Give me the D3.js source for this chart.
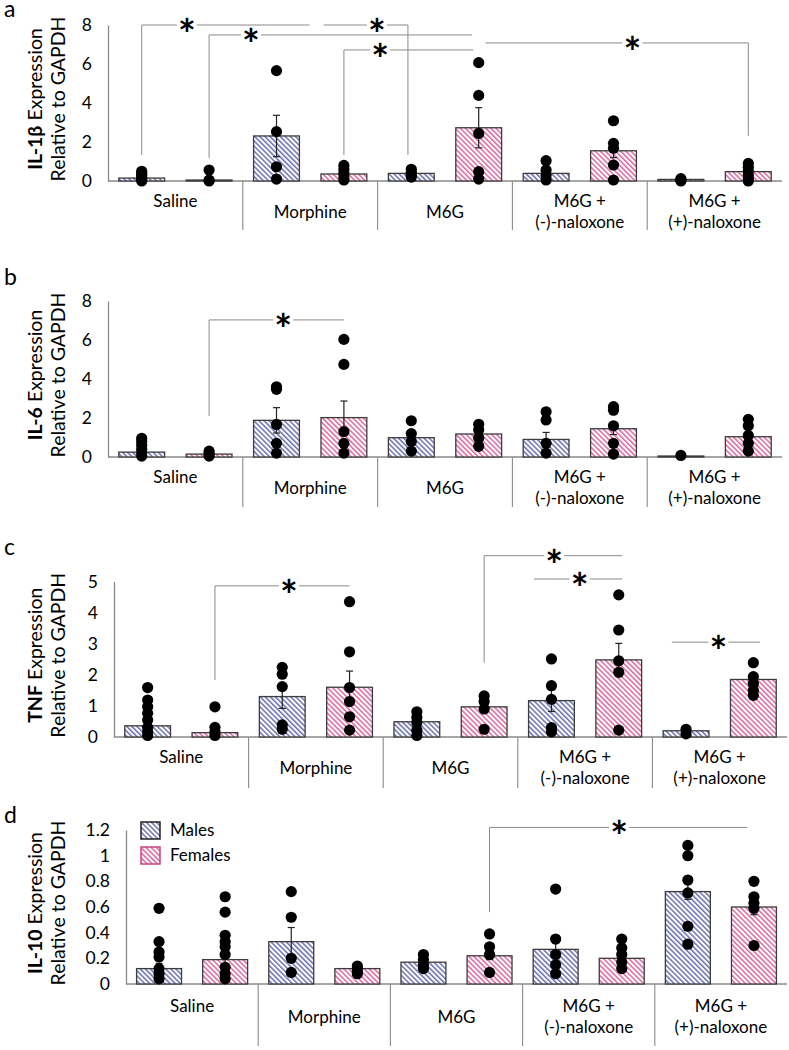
<!DOCTYPE html>
<html><head><meta charset="utf-8">
<script src="https://cdn.jsdelivr.net/npm/d3@7"></script>
<style>
body{margin:0;background:#fff}
svg{display:block}
text{font-family:Lato,"Open Sans",sans-serif;fill:#000}
</style>
</head><body>
<svg id="chart" width="789" height="1050"></svg>
<script>
// ---------------- DATA ----------------
const categories = [["Saline"],["Morphine"],["M6G"],["M6G +","(-)-naloxone"],["M6G +","(+)-naloxone"]];
const sexes = ["Males","Females"];

// IL-1β
const il1bMaleMean   = [0.15, 2.31, 0.39, 0.39, 0.08];
const il1bFemaleMean = [0.05, 0.36, 2.73, 1.55, 0.48];
const il1bMaleSem    = [0.05, 1.06, 0.10, 0.15, 0.03];
const il1bFemaleSem  = [0.03, 0.12, 1.03, 0.35, 0.12];
const il1bMaleDots   = [[0.5,0.4,0.3,0.2,0.1,0.05,0.0],[5.66,2.53,0.73,0.1],[0.6,0.45,0.3,0.2],[1.04,0.56,0.3,0.05],[0.12,0.05,0.0]];
const il1bFemaleDots = [[0.56,0.05,0.0],[0.8,0.6,0.4,0.2,0.05],[6.07,4.39,2.44,0.48,0.1],[3.09,1.93,1.68,0.82,0.05],[0.9,0.7,0.5,0.3,0.1,0.0]];

// IL-6
const il6MaleMean   = [0.25, 1.88, 0.99, 0.90, 0.05];
const il6FemaleMean = [0.15, 2.02, 1.18, 1.45, 1.04];
const il6MaleSem    = [0.10, 0.65, 0.20, 0.36, 0.02];
const il6FemaleSem  = [0.05, 0.85, 0.15, 0.30, 0.25];
const il6MaleDots   = [[0.96,0.8,0.6,0.4,0.2,0.05],[3.6,3.47,1.67,0.7,0.2],[1.86,1.2,0.8,0.3],[2.32,1.9,0.7,0.2],[0.08]];
const il6FemaleDots = [[0.3,0.15,0.05],[6.03,4.75,1.3,0.7,0.2],[1.68,1.4,0.98,0.55],[2.58,2.4,1.6,0.7,0.15],[1.93,1.6,1.1,0.7,0.3]];

// TNF
const tnfMaleMean   = [0.36, 1.30, 0.49, 1.17, 0.20];
const tnfFemaleMean = [0.14, 1.60, 0.97, 2.48, 1.85];
const tnfMaleSem    = [0.15, 0.38, 0.10, 0.35, 0.05];
const tnfFemaleSem  = [0.10, 0.52, 0.15, 0.53, 0.15];
const tnfMaleDots   = [[1.59,1.19,0.97,0.76,0.55,0.31,0.17,0.05],[2.24,2.02,1.62,0.39,0.25],[0.81,0.63,0.46,0.22,0.05],[2.51,1.65,1.21,0.3,0.17],[0.25,0.1]];
const tnfFemaleDots = [[0.97,0.31,0.17,0.05],[4.35,2.74,1.59,1.14,0.65,0.22],[1.32,1.14,0.9,0.25],[4.57,3.44,2.45,2.08,0.22],[2.39,1.94,1.72,1.5,1.34]];

// IL-10
const il10MaleMean   = [0.12, 0.33, 0.17, 0.27, 0.72];
const il10FemaleMean = [0.19, 0.12, 0.22, 0.20, 0.60];
const il10MaleSem    = [0.04, 0.11, 0.02, 0.05, 0.06];
const il10FemaleSem  = [0.06, 0.01, 0.03, 0.03, 0.06];
const il10MaleDots   = [[0.59,0.33,0.25,0.21,0.12,0.08,0.04],[0.72,0.52,0.2,0.09],[0.23,0.19,0.15,0.12],[0.74,0.35,0.23,0.15,0.08],[1.08,1.0,0.81,0.71,0.45,0.31]];
const il10FemaleDots = [[0.68,0.56,0.38,0.33,0.29,0.23,0.13,0.08,0.04],[0.14,0.12,0.1,0.08],[0.39,0.29,0.23,0.09],[0.35,0.28,0.23,0.17,0.12],[0.8,0.68,0.63,0.59,0.3]];

// tick values
const ticksA = [0,2,4,6,8];
const ticksB = [0,2,4,6,8];
const ticksC = [0,1,2,3,4,5];
const ticksD = [0,0.2,0.4,0.6,0.8,1,1.2];

// significance brackets: x in bar-slot units (0..9), y in data units
const bracketsA = [
  {y:8.0,  x1:0,   x2:2.49, star:0.67, d1:1.33, d2:null},
  {y:8.0,  x1:2.7, x2:3.95, star:3.49, d1:null, d2:1.33},
  {y:7.49, x1:1,   x2:4.9,  star:1.62, d1:1.18, d2:null},
  {y:6.72, x1:3,   x2:4.92, star:3.54, d1:1.33, d2:null},
  {y:7.08, x1:5.1, x2:9,    star:7.28, d1:null, d2:2.31}
];
const bracketsB = [{y:7.03, x1:1, x2:3, star:2.1, d1:2.1, d2:null}];
const bracketsC = [
  {y:4.86, x1:1,    x2:3,    star:2.1,  d1:1.83, d2:null},
  {y:5.83, x1:5,    x2:7.05, star:6.04, d1:2.39, d2:null},
  {y:5.08, x1:5.74, x2:7.05, star:6.42, d1:null, d2:null},
  {y:3.05, x1:7.79, x2:9.1,  star:8.48, d1:null, d2:null}
];
const bracketsD = [{y:1.22, x1:5, x2:8.9, star:6.96, d1:0.56, d2:null}];

// ---------------- LAYOUT ----------------
const panels = [
  {letter:"a", letterY:17, bold:"IL-1β", left:108, right:782, y0:181, yTop:25, max:8, ticks:ticksA, fmt:d3.format("d"),
   mm:il1bMaleMean, fm:il1bFemaleMean, ms:il1bMaleSem, fs:il1bFemaleSem, md:il1bMaleDots, fd:il1bFemaleDots, br:bracketsA, div:49, lo:0},
  {letter:"b", letterY:285, bold:"IL-6", left:108, right:782, y0:457, yTop:301, max:8, ticks:ticksB, fmt:d3.format("d"),
   mm:il6MaleMean, fm:il6FemaleMean, ms:il6MaleSem, fs:il6FemaleSem, md:il6MaleDots, fd:il6FemaleDots, br:bracketsB, div:50, lo:0},
  {letter:"c", letterY:555, bold:"TNF", left:114, right:787, y0:737, yTop:581.5, max:5, ticks:ticksC, fmt:d3.format("d"),
   mm:tnfMaleMean, fm:tnfFemaleMean, ms:tnfMaleSem, fs:tnfFemaleSem, md:tnfMaleDots, fd:tnfFemaleDots, br:bracketsC, div:51, lo:0},
  {letter:"d", letterY:823, bold:"IL-10", left:126, right:787, y0:984, yTop:830, max:1.2, ticks:ticksD, fmt:d=>String(+d.toFixed(1)),
   mm:il10MaleMean, fm:il10FemaleMean, ms:il10MaleSem, fs:il10FemaleSem, md:il10MaleDots, fd:il10FemaleDots, br:bracketsD, div:62, lo:2, legend:true}
];

const svg = d3.select("#chart");
const defs = svg.append("defs");
function hatch(id, color){
  const p = defs.append("pattern").attr("id",id).attr("patternUnits","userSpaceOnUse")
    .attr("width",3.6).attr("height",3.6).attr("patternTransform","rotate(-45)");
  p.append("rect").attr("width",3.6).attr("height",3.6).attr("fill","#fff");
  p.append("line").attr("x1",0.8).attr("y1",0).attr("x2",0.8).attr("y2",3.6)
    .attr("stroke",color).attr("stroke-width",1.25);
}
hatch("hM","#4b509e");
hatch("hF","#d2468a");
const fills = ["url(#hM)","url(#hF)"];
const axisColor = "#8a8a8a";

panels.forEach(p => {
  const g = svg.append("g");
  const x = d3.scaleBand().domain(d3.range(10)).range([p.left,p.right]).paddingInner(0.32).paddingOuter(0.16);
  const step = x.step();
  const pos = i => p.left + step*(i+0.5);
  const y = d3.scaleLinear().domain([0,p.max]).range([p.y0,p.yTop]);

  // panel letter
  g.append("text").attr("x",4).attr("y",p.letterY).attr("font-size",23).text(p.letter);

  // y title
  const cy = (p.y0+p.yTop)/2 - 4;
  const t1 = g.append("text").attr("transform",`translate(42,${cy}) rotate(-90)`).attr("text-anchor","middle").attr("font-size",19.5);
  t1.append("tspan").attr("font-weight","bold").text(p.bold);
  t1.append("tspan").text(" Expression");
  g.append("text").attr("transform",`translate(65,${cy}) rotate(-90)`).attr("text-anchor","middle").attr("font-size",19.5).text("Relative to GAPDH");

  // y axis
  const ya = g.append("g").attr("transform",`translate(${p.left},0)`)
    .call(d3.axisLeft(y).tickValues(p.ticks).tickSize(0).tickPadding(16).tickFormat(p.fmt));
  ya.select(".domain").attr("stroke",axisColor).attr("stroke-width",1.3);
  ya.selectAll("text").attr("font-size",17.5).attr("font-family","Lato, sans-serif").attr("fill","#000");

  // x axis
  g.append("line").attr("x1",p.left).attr("x2",p.right).attr("y1",p.y0).attr("y2",p.y0).attr("stroke",axisColor).attr("stroke-width",1.3);
  const gw = (p.right-p.left)/categories.length;
  for(let c=1;c<categories.length;c++){
    g.append("line").attr("x1",p.left+gw*c).attr("x2",p.left+gw*c).attr("y1",p.y0).attr("y2",p.y0+p.div)
      .attr("stroke",axisColor).attr("stroke-width",1.1);
  }
  categories.forEach((lines,c) => {
    const cx = p.left + gw*(c+0.5);
    if(lines.length===1){
      const off = (c===0 ? 26 : 37) + p.lo;
      g.append("text").attr("x",cx).attr("y",p.y0+off).attr("text-anchor","middle").attr("font-size",17).text(lines[0]);
    } else {
      lines.forEach((l,k)=> g.append("text").attr("x",cx).attr("y",p.y0+26+p.lo+k*21).attr("text-anchor","middle").attr("font-size",17).text(l));
    }
  });

  // bars
  const rows = [];
  categories.forEach((_,c) => {
    rows.push({i:c*2, s:0, mean:p.mm[c], sem:p.ms[c], dots:p.md[c]});
    rows.push({i:c*2+1, s:1, mean:p.fm[c], sem:p.fs[c], dots:p.fd[c]});
  });
  g.selectAll("rect.bar").data(rows).join("rect").attr("class","bar")
    .attr("x",d=>x(d.i)).attr("width",x.bandwidth())
    .attr("y",d=>y(d.mean)).attr("height",d=>Math.max(0,p.y0-y(d.mean)))
    .attr("fill",d=>fills[d.s]).attr("stroke","#3c3c3c").attr("stroke-width",1.3);

  // error bars
  rows.forEach(d=>{
    const cx = x(d.i)+x.bandwidth()/2;
    const lo = y(d.mean-d.sem), hi = y(d.mean+d.sem);
    g.append("line").attr("x1",cx).attr("x2",cx).attr("y1",lo).attr("y2",hi).attr("stroke","#222").attr("stroke-width",1.2);
    [lo,hi].forEach(v=>g.append("line").attr("x1",cx-3.5).attr("x2",cx+3.5).attr("y1",v).attr("y2",v).attr("stroke","#222").attr("stroke-width",1.2));
  });

  // dots
  rows.forEach(d=>{
    const cx = x(d.i)+x.bandwidth()/2;
    g.selectAll(null).data(d.dots).join("circle").attr("cx",cx).attr("cy",v=>y(v)).attr("r",5.6).attr("fill","#000");
  });

  // brackets
  const lc = "#8a8a8a";
  p.br.forEach(b=>{
    const by = y(b.y), x1 = pos(b.x1), x2 = pos(b.x2), sx = pos(b.star);
    g.append("line").attr("x1",x1).attr("x2",sx-10).attr("y1",by).attr("y2",by).attr("stroke",lc).attr("stroke-width",1);
    g.append("line").attr("x1",sx+10).attr("x2",x2).attr("y1",by).attr("y2",by).attr("stroke",lc).attr("stroke-width",1);
    if(b.d1!==null) g.append("line").attr("x1",x1).attr("x2",x1).attr("y1",by).attr("y2",y(b.d1)).attr("stroke",lc).attr("stroke-width",1);
    if(b.d2!==null) g.append("line").attr("x1",x2).attr("x2",x2).attr("y1",by).attr("y2",y(b.d2)).attr("stroke",lc).attr("stroke-width",1);
    g.append("text").attr("x",sx).attr("y",by+25).attr("text-anchor","middle")
      .attr("font-family","DejaVu Sans").attr("font-weight","bold").attr("font-size",42).text("*");
  });

  // legend
  if(p.legend){
    const lg = g.append("g");
    sexes.forEach((s,k)=>{
      const yy = 822 + k*25;
      lg.append("rect").attr("x",141).attr("y",yy).attr("width",19).attr("height",17)
        .attr("fill",fills[k]).attr("stroke",k===0?"#222":"#c8437f").attr("stroke-width",1.5);
      lg.append("text").attr("x",170).attr("y",yy+14).attr("font-size",17).text(s);
    });
  }
});
</script>
</body></html>
